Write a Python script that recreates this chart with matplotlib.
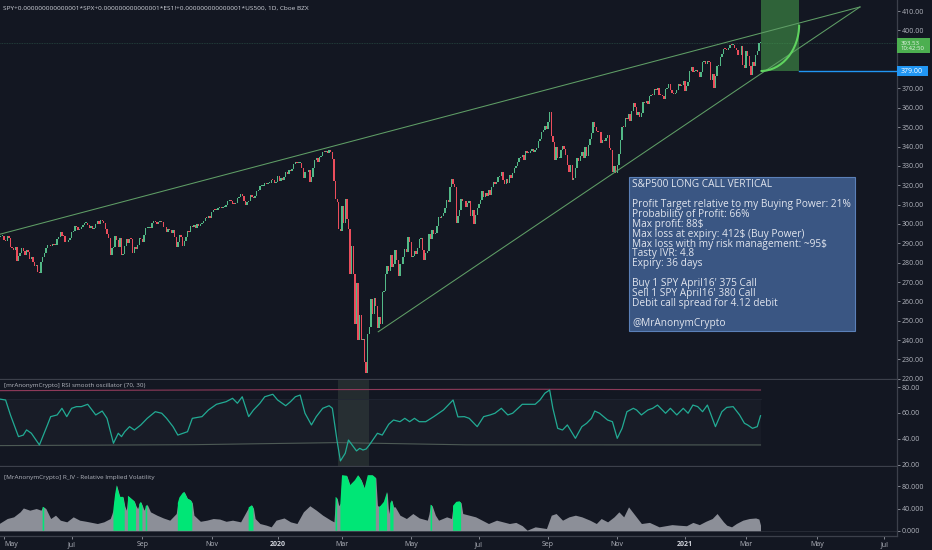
import numpy as np
import matplotlib
matplotlib.use("Agg")
import matplotlib.pyplot as plt
from matplotlib.path import Path
from matplotlib.patches import PathPatch, Rectangle
from matplotlib.transforms import blended_transform_factory

# ---------------- DATA ----------------
title_text = ("SPY+0.000000000000001*SPX+0.000000000000001*ES1!+"
              "0.000000000000001*US500, 1D, Cboe BZX")

# daily closes, one list per month (trading sessions)
months = ["2019-04", "2019-05", "2019-06", "2019-07", "2019-08", "2019-09", "2019-10",
          "2019-11", "2019-12", "2020-01", "2020-02", "2020-03", "2020-04", "2020-05",
          "2020-06", "2020-07", "2020-08", "2020-09", "2020-10", "2020-11", "2020-12",
          "2021-01", "2021-02", "2021-03"]
closes_by_month = [
    [293.41, 293.87, 294.02],
    [291.81, 291.18, 294.03, 292.82, 287.93, 287.53, 286.66, 288.10, 280.86, 283.40, 285.06,
     287.70, 285.84, 283.95, 286.51, 285.63, 282.14, 282.78, 280.15, 278.27, 279.03, 275.27],
    [274.57, 280.53, 282.96, 284.80, 287.65, 288.97, 288.90, 288.39, 289.58, 289.26, 289.37,
     292.40, 293.06, 295.86, 294.00, 293.64, 290.76, 290.47, 291.50, 293.00],
    [295.66, 296.43, 298.80, 298.46, 296.82, 297.19, 298.61, 299.31, 300.65, 300.75, 299.71,
     297.74, 298.83, 297.17, 297.90, 299.80, 301.44, 300.00, 302.01, 301.46, 300.72, 297.43],
    [294.84, 292.62, 283.82, 287.80, 287.97, 293.62, 291.62, 288.07, 292.55, 283.90, 284.65,
     288.85, 292.33, 290.09, 292.45, 292.36, 284.85, 288.00, 286.87, 288.89, 292.58, 292.45],
    [290.74, 294.04, 297.81, 298.05, 298.20, 298.13, 300.25, 301.29, 301.09, 300.16, 300.87,
     301.08, 300.89, 298.28, 298.21, 295.87, 297.62, 296.96, 295.40, 296.77],
    [293.24, 288.06, 290.42, 294.35, 293.08, 288.53, 291.27, 293.24, 296.28, 295.95, 298.88,
     298.40, 299.28, 297.97, 300.03, 299.01, 299.88, 300.37, 301.60, 303.30, 303.21, 304.14, 303.33],
    [306.14, 307.37, 307.03, 307.10, 308.18, 308.94, 308.35, 308.70, 308.87, 309.55, 311.79,
     311.91, 311.67, 310.47, 310.25, 310.96, 313.37, 314.08, 315.48, 314.31],
    [311.64, 309.55, 311.46, 312.02, 314.87, 313.88, 313.53, 314.42, 317.13, 317.32, 319.50,
     319.57, 319.59, 320.90, 320.73, 321.22, 321.23, 322.94, 322.86, 321.08, 321.86],
    [324.87, 322.41, 323.64, 322.73, 324.45, 326.65, 325.71, 327.95, 327.45, 328.19, 330.92,
     331.95, 331.30, 331.34, 331.72, 328.77, 323.50, 326.89, 326.62, 327.68, 321.73],
    [324.12, 329.06, 332.86, 333.98, 332.20, 334.68, 335.26, 337.42, 337.06, 337.60, 336.73,
     338.34, 336.95, 333.48, 322.42, 312.65, 311.50, 297.51, 296.26],
    [309.09, 300.24, 312.86, 302.46, 297.46, 274.23, 288.42, 274.36, 248.11, 269.32, 239.85,
     252.80, 240.00, 240.51, 228.80, 222.95, 243.15, 246.79, 261.20, 253.42, 261.65, 257.75],
    [246.15, 251.83, 248.19, 264.86, 265.13, 274.03, 278.20, 275.66, 283.79, 277.76, 279.10,
     286.64, 281.59, 273.04, 279.08, 279.08, 282.97, 287.05, 285.73, 293.21, 290.48],
    [282.79, 283.57, 286.19, 284.25, 287.68, 292.44, 292.50, 286.67, 281.60, 284.97, 286.28,
     295.00, 291.97, 296.93, 294.88, 295.44, 299.08, 303.53, 302.97, 304.32],
    [305.55, 308.08, 312.18, 311.36, 319.34, 323.20, 320.79, 319.00, 300.61, 304.21, 307.05,
     312.96, 311.66, 311.78, 308.64, 310.62, 312.05, 304.09, 307.35, 300.05, 304.46, 308.36],
    [310.52, 312.23, 317.05, 313.78, 316.18, 314.38, 317.59, 314.84, 318.92, 321.85, 320.79,
     321.72, 324.32, 325.01, 326.86, 322.96, 320.88, 323.22, 321.17, 325.12, 323.96, 326.52],
    [328.79, 330.06, 332.11, 334.33, 334.57, 335.57, 332.80, 337.44, 336.83, 336.84, 337.91,
     338.64, 337.23, 338.28, 339.48, 342.92, 344.12, 347.57, 348.33, 350.58, 349.31],
    [352.60, 357.70, 345.39, 342.57, 333.21, 339.79, 333.89, 334.06, 338.46, 340.17, 338.82,
     335.84, 330.65, 326.97, 330.30, 322.64, 323.50, 328.73, 334.19, 332.37, 334.89],
    [337.04, 333.84, 339.76, 334.93, 340.76, 343.78, 346.85, 352.43, 350.13, 347.93, 347.50,
     347.29, 342.01, 343.38, 342.73, 344.61, 345.78, 339.39, 338.22, 326.66, 329.98, 326.54],
    [330.20, 336.03, 343.54, 350.24, 350.16, 354.56, 354.04, 356.67, 353.21, 358.10, 362.57,
     360.62, 356.28, 357.78, 355.33, 357.46, 363.22, 362.66, 363.67, 362.06],
    [366.02, 366.79, 366.69, 369.85, 369.09, 370.17, 366.85, 366.73, 366.30, 364.66, 369.59,
     370.17, 372.24, 369.18, 367.86, 367.24, 367.57, 369.00, 372.17, 371.46, 371.99, 373.88],
    [368.79, 371.33, 373.55, 379.10, 381.26, 378.69, 378.77, 379.79, 378.46, 375.70, 378.65,
     383.89, 384.24, 382.88, 384.39, 383.79, 374.41, 377.63, 370.07],
    [376.23, 381.55, 381.85, 386.19, 387.71, 390.51, 390.25, 390.08, 390.71, 392.64, 392.30,
     392.39, 390.72, 390.03, 387.03, 387.50, 391.77, 382.33, 380.36],
    [389.58, 386.54, 381.42, 376.70, 383.63, 381.72, 387.17, 389.58, 393.53, 393.53],
]
# sessions still to come on the (empty) right side of the time axis
future_months = ["2021-03+", "2021-04", "2021-05", "2021-06", "2021-07"]
future_sessions = [13, 21, 20, 22, 0]

tick_months = ["2019-05", "2019-07", "2019-09", "2019-11", "2020-01", "2020-03", "2020-05",
               "2020-07", "2020-09", "2020-11", "2021-01", "2021-03", "2021-05", "2021-07"]
tick_labels = ["May", "Jul", "Sep", "Nov", "2020", "Mar", "May", "Jul", "Sep", "Nov",
               "2021", "Mar", "May", "Jul"]
bold_ticks = ["2020", "2021"]

# price scale labels (380 and 390 sit under the price tags)
price_ticks = [220, 230, 240, 250, 260, 270, 280, 290, 300, 310, 320, 330, 340, 350, 360,
               370, 400, 410]
last_price = 393.53
last_countdown = "10:42:50"
target_level = 379.00
expiry_sessions_ahead = 24
curve_end_price = 403.0

# trend lines: (bar, price) anchors
upper_trend = [(0.5, 294.7), (534.8, 412.1)]
lower_trend = [(235.5, 244.3), (534.8, 412.1)]

# RSI smooth oscillator (bar, value)
rsi_bar = [0, 4, 7, 12, 15, 17, 20, 25, 30, 32, 36, 39, 42, 45, 48, 51, 55, 60, 64, 67, 71, 74,
           76, 78, 81, 84, 88, 92, 97, 101, 104, 108, 111, 117, 120, 126, 130, 135, 141, 145,
           148, 151, 155, 158, 162, 165, 170, 173, 178, 181, 184, 187, 190, 194, 197, 201, 205,
           207, 210, 212, 215, 217, 220, 222, 224, 226, 228, 230, 235, 238, 242, 245, 249, 252,
           255, 258, 261, 265, 270, 276, 282, 285, 289, 292, 297, 301, 305, 308, 312, 316, 319,
           325, 329, 333, 336, 339, 342, 344, 347, 350, 353, 358, 362, 365, 368, 370, 373, 378,
           381, 384, 387, 390, 394, 396, 399, 403, 406, 409, 414, 417, 421, 425, 428, 431, 434,
           437, 440, 445, 449, 452, 456, 460, 463, 465, 468, 471, 473]
rsi_val = [70.8, 70.0, 58.5, 41.8, 43.0, 47.0, 44.4, 35.4, 50.8, 57.2, 58.5, 63.6, 57.2, 63.6,
           64.9, 64.9, 66.7, 58.5, 61.5, 55.9, 36.7, 44.4, 41.8, 45.6, 49.5, 46.9, 50.8, 55.9,
           61.0, 59.8, 55.9, 49.5, 43.0, 45.6, 55.9, 57.2, 62.3, 66.7, 68.7, 71.3, 67.5, 72.5,
           57.2, 62.3, 67.5, 72.5, 74.4, 70.0, 65.6, 68.7, 72.5, 73.8, 59.8, 50.8, 57.2, 63.6,
           65.6, 63.6, 38.0, 23.1, 29.0, 39.2, 34.1, 30.8, 32.8, 31.5, 32.3, 35.4, 44.4, 43.0,
           51.3, 54.6, 53.3, 55.9, 53.3, 55.9, 53.3, 53.3, 57.2, 62.3, 70.0, 57.0, 57.2, 55.9,
           49.5, 57.2, 58.5, 59.8, 63.6, 58.5, 59.8, 66.7, 66.7, 66.7, 70.0, 75.2, 77.7, 63.6,
           48.2, 46.9, 50.8, 40.5, 49.5, 52.1, 55.9, 61.5, 59.8, 54.6, 53.3, 40.5, 48.2, 61.0,
           63.6, 62.3, 58.5, 62.3, 63.6, 66.1, 59.8, 63.6, 58.5, 63.6, 59.8, 66.1, 64.9, 61.0,
           66.1, 49.5, 61.0, 64.3, 64.9, 58.5, 52.1, 50.8, 48.2, 49.5, 57.9]
rsi_upper_bar = [0, 200, 330, 473]
rsi_upper_val = [77.2, 78.0, 78.3, 77.7]
rsi_lower_bar = [0, 120, 210, 290, 473]
rsi_lower_val = [34.9, 35.6, 37.2, 35.5, 35.4]
rsi_inner_level = 70.8
rsi_zone = (210.3, 229.8)

# Relative implied volatility (bar, value, highlighted)
iv_bar = [0, 5, 9, 13, 15, 19, 23, 26, 27, 28, 29, 32, 35, 38, 42, 46, 50, 54, 61, 65, 69, 70,
          71, 72, 73, 75, 77, 78, 79, 80, 82, 84, 85, 86, 87, 88, 89, 90, 91, 92, 94, 98, 102,
          106, 110, 111, 112, 114, 115, 117, 119, 120, 121, 125, 129, 133, 137, 141, 145, 150,
          154, 155, 156, 157, 158, 159, 162, 166, 169, 172, 177, 181, 185, 189, 193, 197, 201,
          206, 208, 209, 210, 211, 212, 213, 216, 218, 221, 223, 225, 227, 229, 232, 234, 235,
          236, 237, 239, 241, 242, 243, 244, 245, 246, 249, 253, 257, 261, 266, 267, 268, 269,
          271, 273, 278, 281, 282, 284, 286, 287, 288, 292, 296, 300, 304, 309, 313, 317, 321,
          325, 328, 333, 340, 343, 346, 350, 354, 358, 362, 367, 371, 374, 378, 382, 385, 388,
          391, 395, 399, 404, 410, 414, 418, 422, 427, 431, 435, 439, 443, 446, 450, 452, 455,
          458, 462, 466, 470, 472, 473]
iv_val = [13, 22, 25, 34, 41, 37, 40, 37, 43, 42, 40, 22, 28, 19, 16, 25, 19, 17, 13, 16, 22, 30,
          40, 65, 82, 61, 61, 45, 37, 63, 58, 53, 45, 40, 48, 52, 45, 37, 44, 47, 34, 28, 23,
          19, 31, 50, 60, 68, 70, 58, 55, 50, 28, 17, 19, 22, 21, 17, 19, 16,
          37, 42, 44, 46, 40, 22, 13, 10, 7, 19, 23, 16, 13, 34, 45, 37, 28,
          19, 16, 61, 58, 45, 50, 100, 99, 82, 91, 100, 91, 76, 100, 100, 95, 46,
          43, 45, 52, 70, 31, 50, 55, 43, 43, 28, 22, 31, 23, 19, 30, 47, 45,
          28, 19, 25, 22, 45, 52, 53, 50, 31, 28, 25, 19, 13, 19, 16, 13, 15,
          9, 1, 7, 4, 28, 31, 19, 25, 28, 25, 19, 13, 22, 16, 25, 34, 25,
          43, 28, 13, 15, 7, 9, 11, 10, 9, 15, 11, 17, 22, 31, 16, 10, 7,
          13, 19, 22, 23, 21, 10]
iv_hot = [0, 0, 0, 0, 0, 0, 0, 0, 1, 1, 0, 0, 0, 0, 0, 0, 0, 0, 0, 0, 0, 0,
          1, 1, 1, 1, 1, 1, 0, 1, 1, 1, 1, 0, 1, 1, 1, 0, 1, 1, 0, 0, 0,
          0, 0, 1, 1, 1, 1, 1, 1, 1, 0, 0, 0, 0, 0, 0, 0, 0,
          0, 1, 1, 1, 1, 0, 0, 0, 0, 0, 0, 0, 0, 0, 0, 0, 0,
          0, 0, 1, 1, 0, 1, 1, 1, 1, 1, 1, 1, 1, 1, 1, 1, 0,
          1, 1, 1, 1, 0, 1, 1, 1, 0, 0, 0, 0, 0, 0, 0, 1, 1,
          0, 0, 0, 0, 1, 1, 1, 1, 0, 0, 0, 0, 0, 0, 0, 0, 0,
          0, 0, 0, 0, 0, 0, 0, 0, 0, 0, 0, 0, 0, 0, 0, 0, 0,
          0, 0, 0, 0, 0, 0, 0, 0, 0, 0, 0, 0, 0, 0, 0, 0, 0,
          0, 0, 0, 0, 0, 0]
iv_ticks = [0, 40, 80]
rsi_ticks = [20, 40, 60, 80]

note_lines = ["S&P500 LONG CALL VERTICAL", "",
              "Profit Target relative to my Buying Power: 21%",
              "Probability of Profit: 66%",
              "Max profit: 88$",
              "Max loss at expiry: 412$ (Buy Power)",
              "Max loss with my risk management: ~95$",
              "Tasty IVR: 4.8",
              "Expiry: 36 days", "",
              "Buy 1 SPY April16' 375 Call",
              "Sell 1 SPY April16' 380 Call",
              "Debit call spread for 4.12 debit", "",
              "@MrAnonymCrypto"]

# ---------------- STYLE ----------------
BG = "#131722"
TXT = "#b2b5be"
SEP = "#3c404b"
UP = "#53b987"
DOWN = "#eb4d5c"
FONT = ["Open Sans", "DejaVu Sans"]
plt.rcParams["font.family"] = FONT
AXFS = 5.0

W, H, DPI = 932, 550, 100
fig = plt.figure(figsize=(W / DPI, H / DPI), dpi=DPI, facecolor=BG)

def frac(px0, px1, py0, py1):
    return [px0 / W, 1 - py1 / H, (px1 - px0) / W, (py1 - py0) / H]

ax = fig.add_axes(frac(0, 897, 0, 379))
ax_rsi = fig.add_axes(frac(0, 897, 380, 466), sharex=ax)
ax_iv = fig.add_axes(frac(0, 897, 467, 536), sharex=ax)

# ---------------- derived series ----------------
closes = np.concatenate([np.array(m, float) for m in closes_by_month])
bars = np.arange(len(closes))
opens = np.r_[closes[0], closes[:-1]]
month_start = {}
pos = 0
for m, lst in zip(months, closes_by_month):
    month_start[m] = pos
    pos += len(lst)
for m, n in zip(future_months, future_sessions):
    month_start[m] = pos
    pos += n
tick_pos = [month_start[m] for m in tick_months]
last_bar = bars[-1]

for a in (ax, ax_rsi, ax_iv):
    a.set_facecolor(BG)
    for s in a.spines.values():
        s.set_visible(False)
    a.spines["right"].set_visible(True)
    a.spines["right"].set_color(SEP)
    a.spines["right"].set_linewidth(0.9)
    a.spines["bottom"].set_visible(True)
    a.spines["bottom"].set_color(SEP)
    a.spines["bottom"].set_linewidth(0.9)
    a.yaxis.tick_right()
    a.tick_params(axis="y", colors=TXT, labelsize=AXFS, length=2, width=0.5, pad=1.5)
    a.tick_params(axis="x", colors=TXT, labelsize=AXFS, length=2, width=0.5, pad=1.5)

ax.set_xlim(0.515, 557.8)

# ---------------- main price panel ----------------
ax.set_ylim(219.9, 415.7)
up = closes >= opens
body_lo = np.minimum(opens, closes)
body_h = np.maximum(np.abs(closes - opens), 0.45)
ax.bar(bars, body_h, bottom=body_lo, width=0.85, color=np.where(up, UP, DOWN),
       linewidth=0, zorder=3)

# last price line
ax.axhline(last_price, color="#53b987", lw=0.6, alpha=0.3, ls=(0, (1, 1)), zorder=2)

# trend lines
for tl in (upper_trend, lower_trend):
    (x0, y0), (x1, y1) = tl
    ax.plot([x0, x1], [y0, y1], color="#5f9e66", lw=0.75, zorder=4)

# option target box and payoff curve
exp_bar = last_bar + expiry_sessions_ahead
ax.add_patch(Rectangle((last_bar, target_level), exp_bar - last_bar, 60,
                       facecolor="#4caf50", alpha=0.5, edgecolor="none", zorder=2))
k = 0.5523
verts = [(last_bar, target_level),
         (last_bar + k * (exp_bar - last_bar), target_level),
         (exp_bar, curve_end_price - k * (curve_end_price - target_level)),
         (exp_bar, curve_end_price)]
ax.add_patch(PathPatch(Path(verts, [Path.MOVETO, Path.CURVE4, Path.CURVE4, Path.CURVE4]),
                       facecolor="none", edgecolor="#5fd35f", lw=1.5, zorder=5))
ax.plot([exp_bar, 557.8], [target_level, target_level], color="#2196f3", lw=1.0, zorder=5)

ax.set_yticks(price_ticks)
ax.set_yticklabels([f"{v:.2f}" for v in price_ticks])
ax.tick_params(axis="x", bottom=False, labelbottom=False)

# right-axis price labels
bt = blended_transform_factory(ax.transAxes, ax.transData)
ax.add_patch(Rectangle((1.0, last_price - 5.45), 0.037, 7.8, transform=bt,
                       facecolor="#4caf50", edgecolor="none", clip_on=False, zorder=6))
ax.text(1.004, last_price - 1.55, f"{last_price:.2f}\n{last_countdown}", transform=bt,
        color="#e8f5e9", fontsize=4.3, va="center", ha="left", linespacing=1.05,
        clip_on=False, zorder=7)
ax.add_patch(Rectangle((1.0, target_level - 2.4), 0.035, 4.8, transform=bt,
                       facecolor="#2196f3", edgecolor="none", clip_on=False, zorder=6))
ax.text(1.004, target_level, f"{target_level:.2f}", transform=bt, color="#ffffff",
        fontsize=AXFS, va="center", ha="left", clip_on=False, zorder=7)

# title
ax.text(0.0035, 1 - 8 / 379, title_text, transform=ax.transAxes, color="#d1d4dc",
        fontsize=4.65, va="center", ha="left")

# note box
bx0, bx1 = 629.3 / 897, 855 / 897
by0, by1 = 1 - 330.7 / 379, 1 - 177.3 / 379
ax.add_patch(Rectangle((bx0, by0), bx1 - bx0, by1 - by0, transform=ax.transAxes,
                       facecolor="#3a5683", edgecolor="#5b80b8", lw=0.8, zorder=8))
for i, line in enumerate(note_lines):
    if line:
        ax.text(632.3 / 897, 1 - (184.5 + i * 9.92) / 379, line, transform=ax.transAxes,
                color="#e1e5ee", fontsize=7.3, va="center", ha="left", zorder=9)

# ---------------- RSI panel ----------------
ax_rsi.set_ylim(19.2, 85.4)
ax_rsi.fill_between(rsi_lower_bar, rsi_lower_val, rsi_inner_level, color="#ffffff",
                    alpha=0.022, lw=0, zorder=1)
ax_rsi.plot([0, last_bar], [rsi_inner_level, rsi_inner_level], color="#232836", lw=0.5)
ax_rsi.axvspan(*rsi_zone, color="#44544a", alpha=0.35, lw=0, zorder=1)
ax_rsi.plot(rsi_upper_bar, rsi_upper_val, color="#8e3a5a", lw=0.8, zorder=2)
ax_rsi.plot(rsi_lower_bar, rsi_lower_val, color="#4d5a55", lw=0.8, zorder=2)
ax_rsi.plot(rsi_bar, rsi_val, color="#22ab94", lw=0.9, zorder=3)
ax_rsi.set_yticks(rsi_ticks)
ax_rsi.set_yticklabels([f"{v:.2f}" for v in rsi_ticks])
ax_rsi.tick_params(axis="x", bottom=False, labelbottom=False)
ax_rsi.text(0.004, 1 - 6 / 86, "[mrAnonymCrypto] RSI smooth oscillator (70, 30)",
            transform=ax_rsi.transAxes, color="#b2b5be", fontsize=4.5, va="center", ha="left")

# ---------------- IV panel ----------------
ax_iv.set_ylim(-9.5, 114.8)
ivb = np.array(iv_bar, float)
ivv = np.array(iv_val, float)
hot = np.array(iv_hot, bool)
ax_iv.fill_between(ivb, 0, ivv, color="#8c8f98", lw=0, zorder=2)
ax_iv.fill_between(ivb, 0, ivv, where=hot, color="#00e676", lw=0, zorder=3)
ax_iv.plot([0, 557.8], [0, 0], color="#2a2e39", lw=0.6, zorder=1)
ax_iv.set_yticks(iv_ticks)
ax_iv.set_yticklabels([f"{v:.3f}" for v in iv_ticks])
ax_iv.set_xticks(tick_pos)
ax_iv.set_xticklabels(tick_labels)
for j, lab in enumerate(ax_iv.get_xticklabels()):
    if lab.get_text() in bold_ticks:
        lab.set_fontweight("bold")
        lab.set_color("#d1d4dc")
    if j == 0:
        lab.set_horizontalalignment("left")
ax_iv.text(0.004, 1 - 10 / 69, "[MrAnonymCrypto] R_IV - Relative Implied Volatility",
           transform=ax_iv.transAxes, color="#b2b5be", fontsize=4.55, va="center", ha="left")

fig.savefig("out.png", dpi=DPI, facecolor=BG)
